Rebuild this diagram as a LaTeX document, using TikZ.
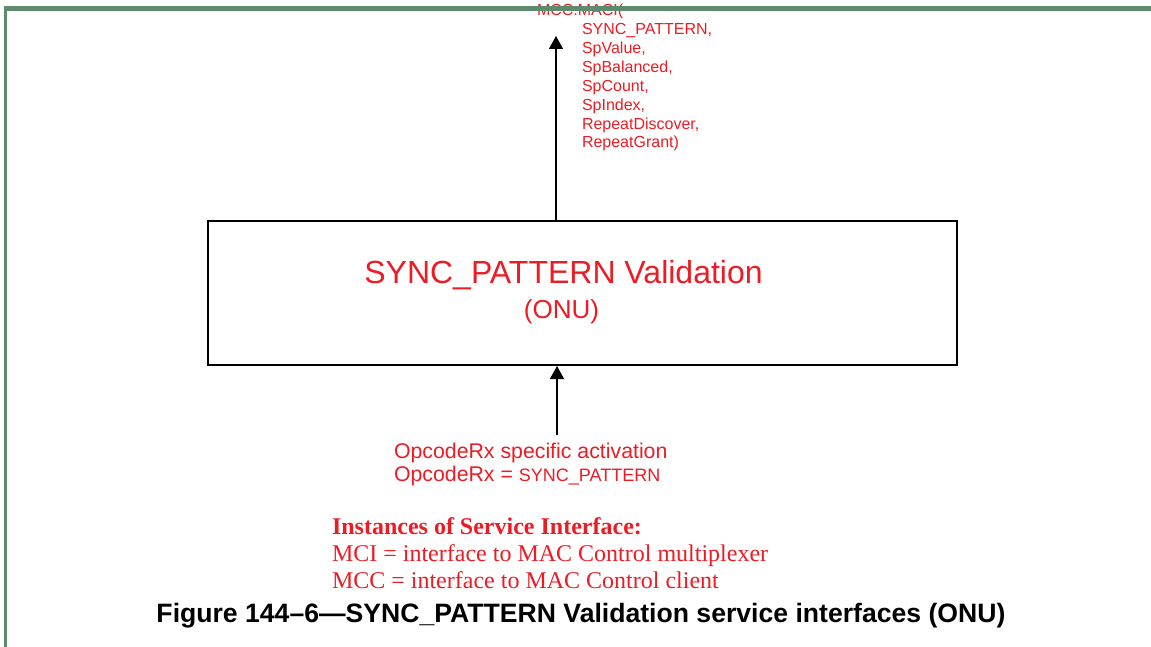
\documentclass[tikz,border=0pt]{standalone}
\usepackage{fontspec}
\setmainfont{Liberation Sans}
\newfontfamily\sansf{Liberation Sans}
\newfontfamily\seriff{Liberation Serif}
\usetikzlibrary{arrows.meta}
\definecolor{ieeered}{RGB}{237,28,36}
\definecolor{framegreen}{RGB}{94,138,110}
\newcommand{\px}[1]{\fontsize{#1}{#1}\selectfont}
\begin{document}
\begin{tikzpicture}[x=1pt,y=-1pt,
  lbl/.style={inner sep=0pt,outer sep=0pt,anchor=base west,text=ieeered},
  ctr/.style={inner sep=0pt,outer sep=0pt,anchor=base,text=ieeered},
  sig/.style={lbl,font=\sansf\px{16}},
  actv/.style={lbl,font=\sansf\px{21.3}},
  legend/.style={lbl,font=\seriff\px{24}},
  block/.style={draw=black,line width=2pt,minimum width=749pt,minimum height=144pt,inner sep=0pt,fill=white},
  arr/.style={line width=1.4pt,-{Triangle[length=13pt,width=14pt]}}]
\useasboundingbox (0,0) rectangle (1151,647);
\fill[white] (0,0) rectangle (1151,647);

% function block
\node[block] (box) at (582.5,293) {};
\node[ctr,font=\sansf\px{32}] (title) at (563.5,283) {SYNC\_PATTERN Validation};
\node[ctr,font=\sansf\px{26}] (onu) at (561.5,318) {(ONU)};

% outgoing service primitive
\node[sig] (s0) at (537,16) {MCC:MACI(};
\node[sig] (s1) at (582,35) {SYNC\_PATTERN,};
\node[sig] (s2) at (582,54) {SpValue,};
\node[sig] (s3) at (582,73) {SpBalanced,};
\node[sig] (s4) at (582,92) {SpCount,};
\node[sig] (s5) at (582,111) {SpIndex,};
\node[sig] (s6) at (582,130) {RepeatDiscover,};
\node[sig] (s7) at (582,148) {RepeatGrant)};
\coordinate (topend) at (556,36);
\draw[arr] (topend |- box.north) -- (topend);

% incoming activation
\coordinate (botend) at (557,435);
\draw[arr] (botend) -- (botend |- box.south);
\node[actv] (a1) at (394,458) {OpcodeRx specific activation};
\node[actv] (a2) at (394,481) {OpcodeRx = {\px{18}SYNC\_PATTERN}};

% legend
\node[legend,font=\seriff\bfseries\px{24}] (l0) at (332,534) {Instances of Service Interface:};
\node[legend] (l1) at (332,561) {MCI = interface to MAC Control multiplexer};
\node[legend] (l2) at (332,588) {MCC = interface to MAC Control client};

% caption
\node[inner sep=0pt,anchor=base,font=\sansf\bfseries\px{26.6}] (cap) at (581,622)
  {Figure 144–6—SYNC\_PATTERN Validation service interfaces (ONU)};

% page frame
\fill[framegreen] (4,6) rectangle (1151,11);
\fill[framegreen] (4,6) rectangle (7,647);
\end{tikzpicture}
\end{document}
